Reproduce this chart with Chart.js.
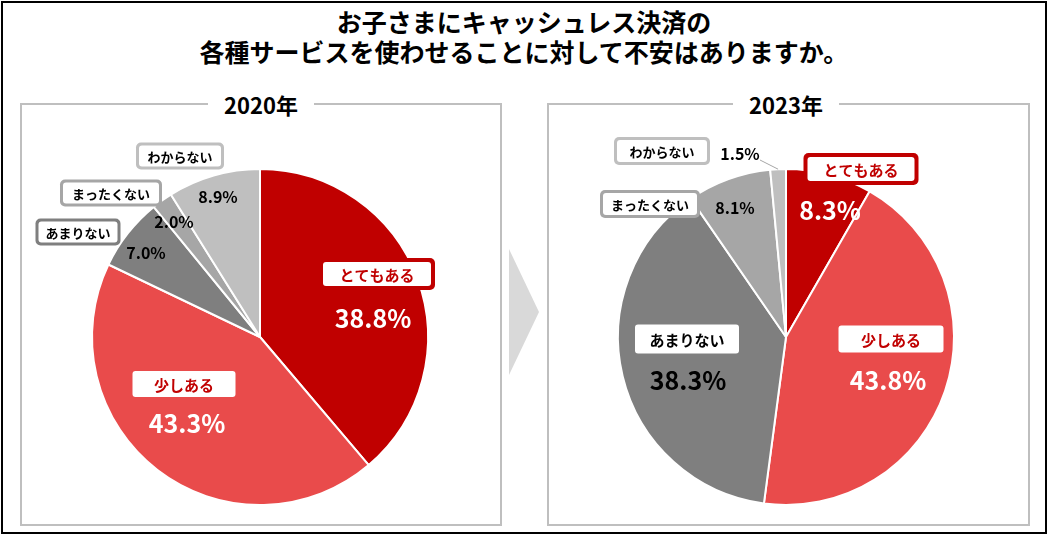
<!DOCTYPE html>
<html lang="ja">
<head>
<meta charset="utf-8">
<title>キャッシュレス決済への不安</title>
<script src="https://cdn.jsdelivr.net/npm/chart.js@4.4.1/dist/chart.umd.min.js"></script>
<style>
  body { margin: 0; background: #fff; font-family: 'Noto Sans CJK JP', sans-serif; }
  #frame { position: absolute; left: 1px; top: 1px; width: 1042px; height: 529px; border: 2px solid #000; }
  #title { position: absolute; left: 0; top: 6px; width: 1048px; margin: 0; text-align: center;
           font-size: 25px; line-height: 30px; font-weight: bold; color: #000; }
  .panel { position: absolute; top: 103px; height: 419px; border: 2px solid #bfbfbf; }
  .ptitle { position: absolute; top: 92px; width: 106px; text-align: center; background: #fff;
            font-size: 22px; line-height: 24px; font-weight: bold; color: #000; }
  #arrow { position: absolute; left: 509px; top: 249px; width: 30px; height: 126px; background: #d9d9d9;
           clip-path: polygon(0 0, 100% 50%, 0 100%); }
  canvas { position: absolute; top: 106px; }
</style>
</head>
<body>
<div id="frame"></div>
<h1 id="title">お子さまにキャッシュレス決済の<br>各種サービスを使わせることに対して不安はありますか。</h1>
<div class="panel" style="left:20px; width:478px;"></div>
<div class="panel" style="left:547px; width:479px;"></div>
<div id="arrow"></div>
<div class="ptitle" id="t2020" style="left:208px;"></div>
<div class="ptitle" id="t2023" style="left:733px;"></div>
<canvas id="pie-2020" width="478" height="417" style="left:22px;"></canvas>
<canvas id="pie-2023" width="478" height="417" style="left:548px;"></canvas>
<script>
// data
const years = ['2020年', '2023年']
const categories = ['とてもある', '少しある', 'あまりない', 'まったくない', 'わからない']
const values2020 = [38.8, 43.3, 7.0, 2.0, 8.9]
const values2023 = [8.3, 43.8, 38.3, 8.1, 1.5]

const SLICE_COLORS = ['#c00000', '#e94b4b', '#7f7f7f', '#a6a6a6', '#bfbfbf']
const TEXT_COLORS = ['#c00000', '#c00000', '#000000', '#000000', '#000000']
const PCT_COLORS = ['#ffffff', '#ffffff', '#000000', '#000000', '#000000']
const FONT = '"Noto Sans CJK JP", sans-serif'

// label placement, px relative to pie centre: box [dx, dy, w, h], pct [dx, dy]
const layout2020 = [
  { box: [117, -63, 108, 24], border: 4, fs: 15, pct: [113, -19], ps: 25 },
  { box: [-76, 47, 103, 26], border: 0, fs: 15, pct: [-73, 86], ps: 25 },
  { box: [-182, -105, 79, 21], border: 3, fs: 13, pct: [-114, -84], ps: 16 },
  { box: [-149, -144, 96, 21], border: 3, fs: 13, pct: [-86, -115], ps: 16 },
  { box: [-80, -181, 82, 21], border: 3, fs: 13, pct: [-42, -140], ps: 16 },
]
const layout2023 = [
  { box: [75, -168, 107, 24], border: 4, fs: 15, pct: [44, -127], ps: 25 },
  { box: [105, 2, 105, 27], border: 0, fs: 15, pct: [102, 43], ps: 25 },
  { box: [-99, 2, 104, 29], border: 0, fs: 15, pct: [-98, 43], ps: 25 },
  { box: [-136, -133, 94, 22], border: 3, fs: 13, pct: [-51, -129], ps: 16 },
  { box: [-124, -186, 90, 22], border: 3, fs: 13, pct: [-46, -183], ps: 16, leader: [-26, -177] },
]

document.getElementById('t2020').textContent = years[0]
document.getElementById('t2023').textContent = years[1]

const makeLabels = layout => ({
  id: 'sliceLabels',
  afterDatasetsDraw(chart) {
    const { ctx } = chart
    const meta = chart.getDatasetMeta(0)
    const values = chart.data.datasets[0].data
    ctx.save()
    ctx.textAlign = 'center'
    ctx.textBaseline = 'middle'
    meta.data.forEach((arc, i) => {
      const lay = layout[i]
      const { x, y, startAngle, endAngle, outerRadius } =
        arc.getProps(['x', 'y', 'startAngle', 'endAngle', 'outerRadius'], true)

      if (lay.leader) {
        const mid = (startAngle + endAngle) / 2
        ctx.strokeStyle = '#a6a6a6'
        ctx.lineWidth = 1
        ctx.beginPath()
        ctx.moveTo(x + Math.cos(mid) * outerRadius, y + Math.sin(mid) * outerRadius)
        ctx.lineTo(x + lay.leader[0], y + lay.leader[1])
        ctx.stroke()
      }

      const [bx, by, bw, bh] = lay.box
      const left = x + bx - bw / 2
      const top = y + by - bh / 2
      if (lay.border) {
        const b = lay.border
        ctx.fillStyle = SLICE_COLORS[i]
        ctx.beginPath()
        ctx.roundRect(left - b, top - b, bw + 2 * b, bh + 2 * b, 5)
        ctx.fill()
      }
      ctx.fillStyle = '#ffffff'
      ctx.beginPath()
      ctx.roundRect(left, top, bw, bh, 3)
      ctx.fill()

      ctx.fillStyle = TEXT_COLORS[i]
      ctx.font = `bold ${lay.fs}px ${FONT}`
      ctx.fillText(chart.data.labels[i], x + bx, y + by + 1)

      ctx.fillStyle = PCT_COLORS[i]
      ctx.font = `bold ${lay.ps}px ${FONT}`
      ctx.fillText(values[i].toFixed(1) + '%', x + lay.pct[0], y + lay.pct[1])
    })
    ctx.restore()
  },
})

const makePie = (id, values, layout) => new Chart(document.getElementById(id), {
  type: 'pie',
  data: {
    labels: categories,
    datasets: [{
      data: values,
      backgroundColor: SLICE_COLORS,
      borderColor: '#ffffff',
      borderWidth: 2,
    }],
  },
  options: {
    responsive: false,
    animation: false,
    events: [],
    layout: { padding: { left: 69, right: 71, top: 62, bottom: 17 } },
    plugins: {
      legend: { display: false },
      tooltip: { enabled: false },
    },
  },
  plugins: [makeLabels(layout)],
})

const chart2020 = makePie('pie-2020', values2020, layout2020)
const chart2023 = makePie('pie-2023', values2023, layout2023)
</script>
</body>
</html>
